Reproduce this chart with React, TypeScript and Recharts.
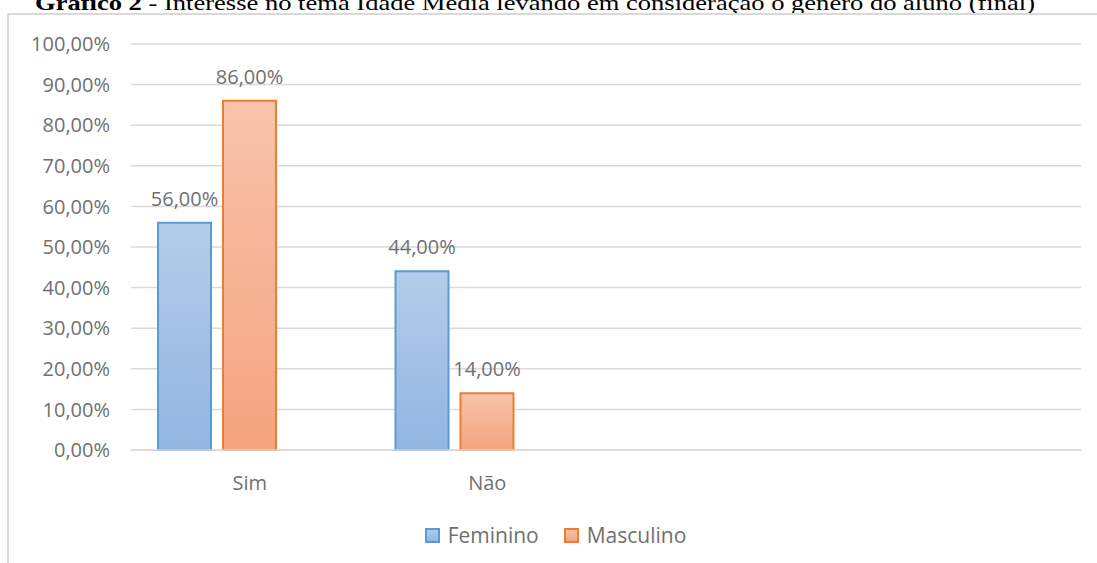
import React from 'react'
import {
  BarChart,
  Bar,
  XAxis,
  YAxis,
  CartesianGrid,
  Legend,
  LabelList,
} from 'recharts'

const categories = ['Sim', 'Não', ' ', '  ']
const feminino = [0.56, 0.44, null, null]
const masculino = [0.86, 0.14, null, null]
const serie3 = [null, null, null, null]
const yTicks = [0, 0.1, 0.2, 0.3, 0.4, 0.5, 0.6, 0.7, 0.8, 0.9, 1]

const data = categories.map((c, i) => ({
  name: c,
  Feminino: feminino[i],
  Masculino: masculino[i],
  Serie3: serie3[i],
}))

const GRAY = '#707070'
const FONT = '"Open Sans", "Noto Sans", sans-serif'

const pct = (v: any) =>
  v === null || v === undefined ? '' : (v * 100).toFixed(2).replace('.', ',') + '%'

const LEGEND_STYLE: Record<string, { top: string; bottom: string; stroke: string }> = {
  Feminino: { top: '#b4cce9', bottom: '#92b5e1', stroke: '#5b9bd5' },
  Masculino: { top: '#f8c3ab', bottom: '#f4a47f', stroke: '#ed7d31' },
}

function LegendContent(props: any) {
  const items = (props.payload || []).filter((p: any) => LEGEND_STYLE[p.value])
  return (
    <div
      style={{
        display: 'flex',
        justifyContent: 'center',
        gap: 25,
        fontFamily: FONT,
        fontSize: 21,
        color: GRAY,
        paddingLeft: 14,
      }}
    >
      {items.map((p: any) => (
        <div key={p.value} style={{ display: 'flex', alignItems: 'center', gap: 8 }}>
          <svg width={15} height={15}>
            <defs>
              <linearGradient id={'lg' + p.value} x1="0" y1="0" x2="0" y2="1">
                <stop offset="0%" stopColor={LEGEND_STYLE[p.value].top} />
                <stop offset="100%" stopColor={LEGEND_STYLE[p.value].bottom} />
              </linearGradient>
            </defs>
            <rect
              x={1}
              y={1}
              width={13}
              height={13}
              fill={'url(#lg' + p.value + ')'}
              stroke={LEGEND_STYLE[p.value].stroke}
              strokeWidth={2}
            />
          </svg>
          <span>{p.value}</span>
        </div>
      ))}
    </div>
  )
}

export default function App() {
  return (
    <div
      style={{
        position: 'fixed',
        top: 0,
        left: 0,
        width: 1097,
        height: 563,
        overflow: 'hidden',
        background: '#fff',
      }}
    >
      <svg
        width={1097}
        height={563}
        style={{ position: 'absolute', top: 0, left: 0 }}
      >
        <text
          x={35}
          y={10}
          fontFamily='"Liberation Serif", "Times New Roman", serif'
          fontSize={21}
          fill="#000"
          textLength={1000}
          lengthAdjust="spacingAndGlyphs"
        >
          <tspan fontWeight="bold">Gráfico 2</tspan>
          <tspan> - Interesse no tema Idade Média levando em consideração o gênero do aluno (final)</tspan>
        </text>
        <line x1={8} y1={14} x2={1097} y2={14} stroke="#d9d9d9" strokeWidth={2} />
        <line x1={8} y1={14} x2={8} y2={563} stroke="#d9d9d9" strokeWidth={2} />
      </svg>
      <div style={{ position: 'absolute', top: 0, left: 0 }}>
        <BarChart
          width={1097}
          height={563}
          data={data}
          margin={{ top: 44, right: 16, bottom: 83, left: 0 }}
          barCategoryGap={27}
          barGap={12}
        >
          <defs>
            <linearGradient id="gradFem" x1="0" y1="0" x2="0" y2="1">
              <stop offset="0%" stopColor="#b4cce9" />
              <stop offset="100%" stopColor="#92b5e1" />
            </linearGradient>
            <linearGradient id="gradMasc" x1="0" y1="0" x2="0" y2="1">
              <stop offset="0%" stopColor="#f8c3ab" />
              <stop offset="100%" stopColor="#f4a47f" />
            </linearGradient>
          </defs>
          <CartesianGrid vertical={false} stroke="#d9d9d9" strokeWidth={1.5} />
          <XAxis
            dataKey="name"
            axisLine={{ stroke: '#d9d9d9', strokeWidth: 1.5 }}
            tickLine={false}
            tickSize={0}
            tickMargin={26}
            height={30}
            interval={0}
            tick={{ fill: GRAY, fontSize: 20, fontFamily: FONT }}
          />
          <YAxis
            width={131}
            domain={[0, 1]}
            ticks={yTicks}
            tickFormatter={pct}
            axisLine={false}
            tickLine={false}
            tickSize={0}
            tickMargin={21}
            interval={0}
            tick={{ fill: GRAY, fontSize: 20, fontFamily: FONT }}
          />
          <Legend
            layout="horizontal"
            verticalAlign="middle"
            align="center"
            wrapperStyle={{ top: 521, left: 0, width: 1097 }}
            content={<LegendContent />}
          />
          <Bar
            dataKey="Feminino"
            name="Feminino"
            fill="url(#gradFem)"
            stroke="#5b9bd5"
            strokeWidth={2}
            isAnimationActive={false}
          >
            <LabelList
              dataKey="Feminino"
              position="top"
              offset={17}
              formatter={pct}
              fill={GRAY}
              fontSize={20}
              fontFamily={FONT}
            />
          </Bar>
          <Bar
            dataKey="Masculino"
            name="Masculino"
            fill="url(#gradMasc)"
            stroke="#ed7d31"
            strokeWidth={2}
            isAnimationActive={false}
          >
            <LabelList
              dataKey="Masculino"
              position="top"
              offset={17}
              formatter={pct}
              fill={GRAY}
              fontSize={20}
              fontFamily={FONT}
            />
          </Bar>
          <Bar
            dataKey="Serie3"
            name="Serie3"
            legendType="none"
            fill="#a5a5a5"
            isAnimationActive={false}
          />
        </BarChart>
      </div>
    </div>
  )
}
